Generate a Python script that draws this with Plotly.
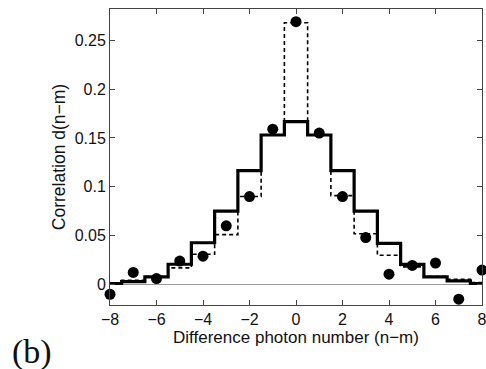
import plotly.graph_objects as go

n_values = list(range(-8, 9))
measured = [-0.010, 0.0123, 0.006, 0.024, 0.029, 0.060, 0.090, 0.159, 0.269,
            0.155, 0.090, 0.048, 0.0106, 0.0195, 0.022, -0.015, 0.0147]
model_solid = [0.001, 0.003, 0.0078, 0.0207, 0.0427, 0.075, 0.1165, 0.153, 0.1668,
               0.153, 0.1165, 0.075, 0.042, 0.0205, 0.0078, 0.0037, 0.001]
model_dashed = [0.001, 0.0044, 0.008, 0.017, 0.031, 0.051, 0.090, 0.153, 0.268,
                0.153, 0.091, 0.052, 0.030, 0.018, 0.008, 0.0054, 0.002]
x_ticks = [-8, -6, -4, -2, 0, 2, 4, 6, 8]
x_tick_text = ["\u22128", "\u22126", "\u22124", "\u22122", "0", "2", "4", "6", "8"]
y_ticks = [0, 0.05, 0.1, 0.15, 0.2, 0.25]
y_tick_text = ["0", "0.05", "0.1", "0.15", "0.2", "0.25"]

font = "Liberation Sans, Arial, sans-serif"

fig = go.Figure()
fig.add_trace(go.Scatter(x=n_values, y=model_dashed, mode="lines",
                         line=dict(shape="hvh", color="black", width=1.6, dash="4px,3px"),
                         showlegend=False))
fig.add_trace(go.Scatter(x=n_values, y=model_solid, mode="lines",
                         line=dict(shape="hvh", color="black", width=3.2),
                         showlegend=False))
fig.add_trace(go.Scatter(x=n_values, y=measured, mode="markers",
                         marker=dict(color="black", size=11),
                         cliponaxis=False, showlegend=False))

fig.update_layout(
    width=486, height=369,
    margin=dict(l=110, r=4, t=9, b=64),
    paper_bgcolor="white", plot_bgcolor="white",
    font=dict(family=font, size=16, color="#111"),
    annotations=[dict(text="(b)", xref="paper", yref="paper",
                      x=-0.21, y=-0.16, xanchor="center", yanchor="middle",
                      showarrow=False,
                      font=dict(family="Liberation Serif, DejaVu Serif, serif", size=34, color="#111"))],
)
fig.update_xaxes(range=[-8, 8], tickvals=x_ticks, ticktext=x_tick_text,
                 ticks="inside", ticklen=5, tickcolor="#444", mirror="ticks",
                 showline=True, linecolor="#444", linewidth=1, showgrid=False,
                 zeroline=False, ticklabeloverflow="allow", automargin=False,
                 title=dict(text="Difference photon number (n\u2212m)", standoff=0,
                            font=dict(size=17)))
fig.update_yaxes(range=[-0.021, 0.282], tickvals=y_ticks, ticktext=y_tick_text,
                 ticks="inside", ticklen=5, tickcolor="#444", mirror="ticks",
                 showline=True, linecolor="#444", linewidth=1, showgrid=False,
                 zeroline=True, zerolinecolor="#999", zerolinewidth=1,
                 automargin=False,
                 title=dict(text="Correlation d(n\u2212m)", standoff=4,
                            font=dict(size=17.5)))

fig.write_html("out.html")
